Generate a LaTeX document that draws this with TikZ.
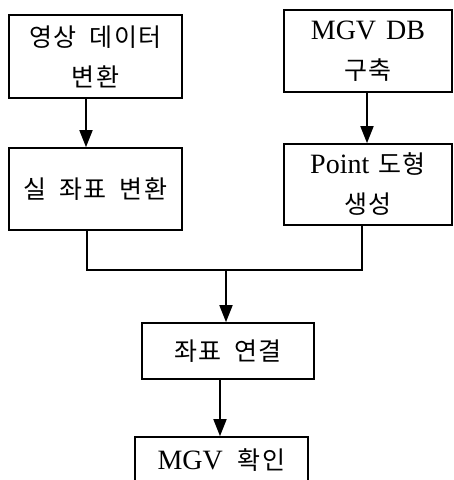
\documentclass[tikz,border=0pt]{standalone}
\usepackage{fontspec}
\setmainfont{Liberation Serif}
\newfontfamily\kr[LetterSpace=6,WordSpace=1.8]{Noto Sans CJK KR}
\newcommand\lbig{\fontsize{28}{40}\selectfont}
\usetikzlibrary{arrows.meta}
\begin{document}
\begin{tikzpicture}[x=1pt,y=-1pt,line width=1.6pt,
  box/.style={draw,rectangle,inner sep=0pt,align=center,font=\fontsize{25}{40}\selectfont},
  arr/.style={-{Triangle[width=13pt,length=17pt]}}]
\clip (0,0) rectangle (454,480);
\node[box,minimum width=173pt,minimum height=83pt] (a) at (95.5,56.5) {\kr 영상 데이터\\\kr 변환};
\node[box,minimum width=168pt,minimum height=82pt] (b) at (368,51) {\lbig MGV\hspace{10pt}DB\\\kr 구축};
\node[box,minimum width=168pt,minimum height=81pt] (d) at (368,184.5) {{\lbig Point}\hspace{9pt}{\kr 도형}\\\kr 생성};
\node[box,minimum width=173pt,minimum height=82pt] (c) at (95.5,189) {\kr 실 좌표 변환};
\node[box,minimum width=172pt,minimum height=56pt] (e) at (228,351) {\kr 좌표 연결};
\node[box,minimum width=173pt,minimum height=46pt] (f) at (221.5,460) {{\lbig MGV}\hspace{15pt}{\kr 확인}};
\coordinate (m) at (226,270);
\draw[arr] ([xshift=-9.5pt]a.south) -- ([xshift=-9.5pt]c.north);
\draw[arr] ([xshift=-1pt]b.south) -- ([xshift=-1pt]d.north);
\draw ([xshift=-8.5pt]c.south) |- (m) -| ([xshift=-6pt]d.south);
\draw[arr] (m) -- (m |- e.north);
\draw[arr] ([xshift=-8pt]e.south) -- ([xshift=-8pt]e.south |- f.north);
\end{tikzpicture}
\end{document}
